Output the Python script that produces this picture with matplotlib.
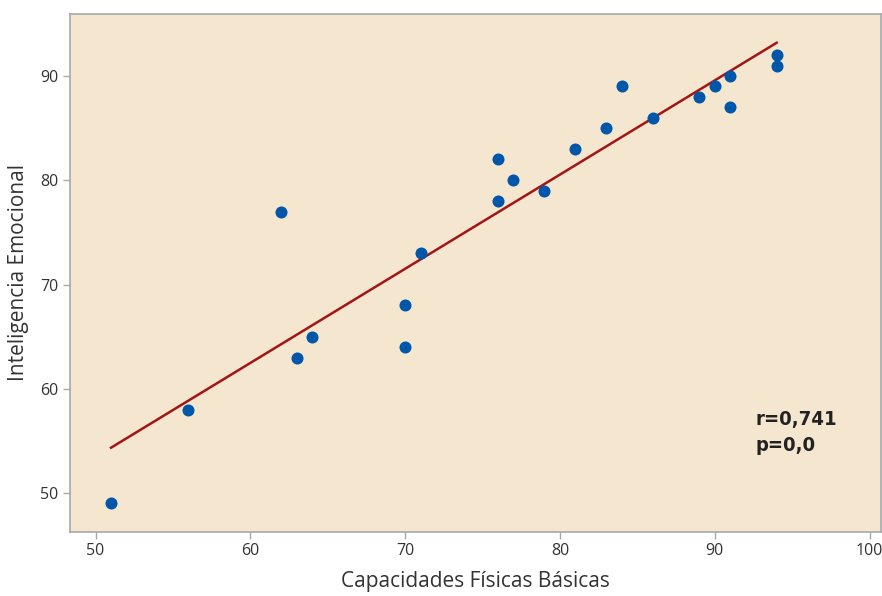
import matplotlib.pyplot as plt
import numpy as np

# datos
cap_fisicas = [51, 56, 62, 63, 64, 70, 70, 71, 76, 76, 77, 79, 81, 83, 84, 86, 89, 90, 91, 91, 94, 94]
int_emocional = [49, 58, 77, 63, 65, 68, 64, 73, 82, 78, 80, 79, 83, 85, 89, 86, 88, 89, 90, 87, 92, 91]

x = np.array(cap_fisicas)
y = np.array(int_emocional)

plt.rcParams['font.family'] = ['Open Sans', 'DejaVu Sans']

fig = plt.figure(figsize=(8.82, 5.96), dpi=100)
ax = fig.add_axes([0.0794, 0.108, 0.9196, 0.8685])
ax.set_facecolor('#F5E6D0')

# recta de regresion
m, b = np.polyfit(x, y, 1)
xl = np.array([x.min(), x.max()])
ax.plot(xl, m * xl + b, color='#A31515', lw=1.8, zorder=2)

ax.scatter(x, y, s=75, color='#0056A8', zorder=3, linewidths=0)

ax.set_xlim(48.35, 100.75)
ax.set_ylim(46.3, 95.95)
ax.set_xticks([50, 60, 70, 80, 90, 100])
ax.set_yticks([50, 60, 70, 80, 90])

for s in ax.spines.values():
    s.set_color('#A8A8A8')
    s.set_linewidth(1.2)
ax.tick_params(colors='#A8A8A8', labelcolor='#333333', labelsize=11.5, length=5, width=1)

ax.set_xlabel('Capacidades Físicas Básicas', fontsize=15, color='#333333', labelpad=8)
ax.set_ylabel('Inteligencia Emocional', fontsize=15, color='#333333', labelpad=8)

ax.text(92.65, 55.8, 'r=0,741\np=0,0', fontsize=14.5, fontweight='bold', color='#222222',
        family='DejaVu Sans', fontstretch='condensed', linespacing=1.5, va='center')

plt.savefig('out.png', dpi=100)
